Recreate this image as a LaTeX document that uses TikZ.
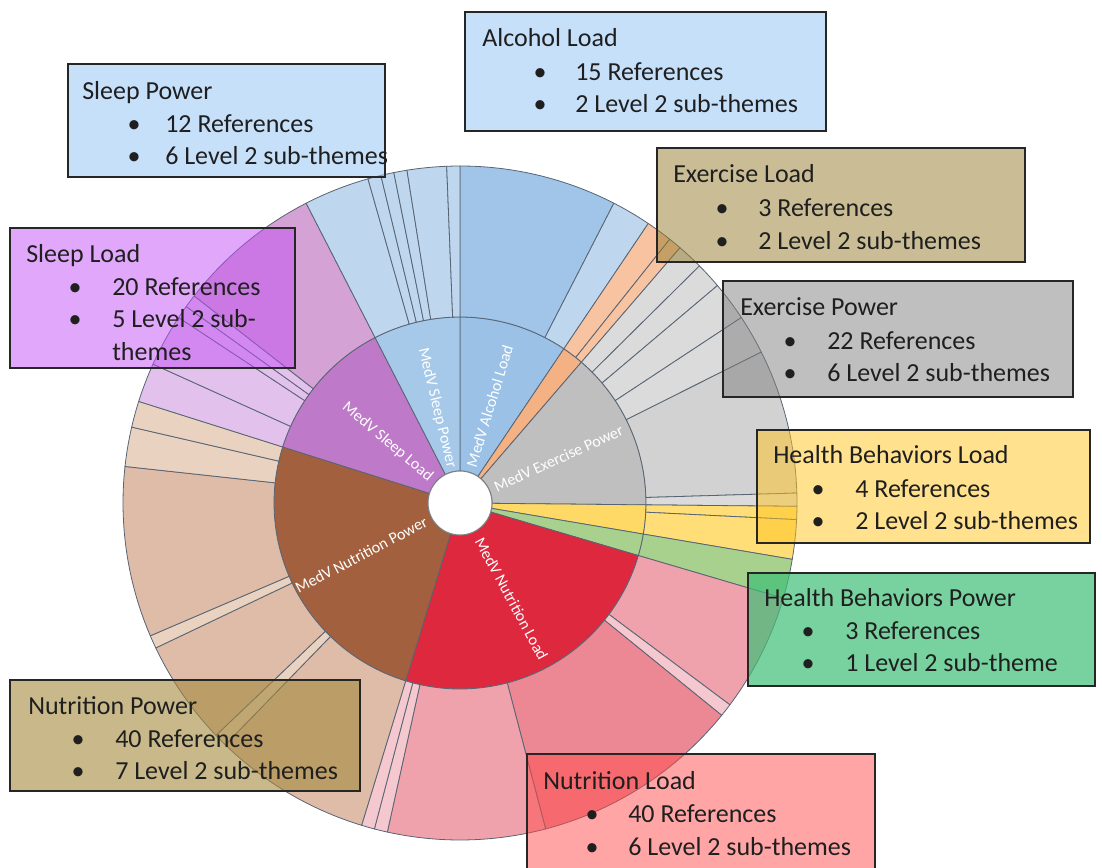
\documentclass[tikz,border=0pt]{standalone}
\usepackage{fontspec}
\setmainfont{Carlito}
\usetikzlibrary{fit}

% ring colours
\definecolor{segline}{RGB}{88,100,115}
\definecolor{alcIn}{RGB}{155,194,230}
\definecolor{alcOut}{RGB}{160,197,232}
\definecolor{blueLt}{RGB}{190,215,238}
\definecolor{spIn}{RGB}{166,201,233}
\definecolor{exlIn}{RGB}{244,177,131}
\definecolor{exlOut}{RGB}{247,195,160}
\definecolor{expIn}{RGB}{191,191,191}
\definecolor{expOut}{RGB}{219,219,219}
\definecolor{expOutB}{RGB}{210,210,211}
\definecolor{hbl}{RGB}{255,217,102}
\definecolor{hblOut}{RGB}{255,222,120}
\definecolor{hbp}{RGB}{169,209,142}
\definecolor{nlIn}{RGB}{222,40,62}
\definecolor{nlPink}{RGB}{240,162,172}
\definecolor{nlRose}{RGB}{236,136,148}
\definecolor{nlPale}{RGB}{244,200,206}
\definecolor{npIn}{RGB}{162,96,62}
\definecolor{npTan}{RGB}{222,188,168}
\definecolor{npPale}{RGB}{234,210,192}
\definecolor{slIn}{RGB}{190,122,200}
\definecolor{slMauve}{RGB}{212,162,212}
\definecolor{slLav}{RGB}{226,194,236}
% legend box colours
\definecolor{boxBlue}{RGB}{141,193,245}
\definecolor{boxKhaki}{RGB}{150,124,45}
\definecolor{boxGray}{RGB}{127,127,127}
\definecolor{boxViolet}{RGB}{195,80,245}
\definecolor{boxYellow}{RGB}{255,195,30}
\definecolor{boxGreen}{RGB}{62,191,119}
\definecolor{boxNut}{RGB}{165,138,60}
\definecolor{boxRed}{RGB}{255,75,75}

\tikzset{
  wedge/.style={draw=segline, line width=0.6pt, line join=round},
  infobox/.style={draw=black!85, line width=1.1pt, fill opacity=0.5, inner sep=0pt},
  boxtext/.style={anchor=base west, inner sep=0pt, font=\fontsize{19.5}{23}\selectfont, text=black!88},
  bulletmark/.style={anchor=base, inner sep=0pt, font=\fontsize{19.5}{23}\selectfont, text=black!88},
  ringtext/.style={inner sep=0pt, font=\fontsize{12}{14}\selectfont, text=white},
}

% one sector of a ring, bounded by cumulative reference counts (159 in all)
\newcommand{\ringwedge}[5]{%
  \pgfmathsetmacro{\wa}{90-#3*2.2641509}%
  \pgfmathsetmacro{\wb}{90-#4*2.2641509}%
  \filldraw[wedge, fill=#5] (\wa:#1) arc[start angle=\wa, end angle=\wb, radius=#1]
    -- (\wb:#2) arc[start angle=\wb, end angle=\wa, radius=#2] -- cycle;}

% legend frame spanning two corners
\newcommand{\infobox}[6]{\node[infobox, fill=#2, fit={(#3,#4) (#5,#6)}] (#1) {};}

\begin{document}
\begin{tikzpicture}[x=0.75pt, y=-0.75pt]
\useasboundingbox (0,0) rectangle (1102,867);
\clip (0,0) rectangle (1102,867);

\begin{scope}[shift={(460,503)}, yscale=-1]
  % inner ring: level 1 themes
  \ringwedge{32}{186}{0}{15}{alcIn}
  \ringwedge{32}{186}{15}{18}{exlIn}
  \ringwedge{32}{186}{18}{40}{expIn}
  \ringwedge{32}{186}{40}{44}{hbl}
  \ringwedge{32}{186}{44}{47}{hbp}
  \ringwedge{32}{186}{47}{87}{nlIn}
  \ringwedge{32}{186}{87}{127}{npIn}
  \ringwedge{32}{186}{127}{147}{slIn}
  \ringwedge{32}{186}{147}{159}{spIn}
  % outer ring: level 2 sub-themes
  \ringwedge{186}{337}{0}{12}{alcOut}
  \ringwedge{186}{337}{12}{15}{blueLt}
  \ringwedge{186}{337}{15}{17}{exlOut}
  \ringwedge{186}{337}{17}{18}{exlOut}
  \ringwedge{186}{337}{18}{20}{expOut}
  \ringwedge{186}{337}{20}{22}{expOut}
  \ringwedge{186}{337}{22}{25}{expOut}
  \ringwedge{186}{337}{25}{28}{expOut}
  \ringwedge{186}{337}{28}{39}{expOutB}
  \ringwedge{186}{337}{39}{40}{expOut}
  \ringwedge{186}{337}{40}{41}{hblOut}
  \ringwedge{186}{337}{41}{44}{hblOut}
  \ringwedge{186}{337}{44}{47}{hbp}
  \ringwedge{186}{337}{47}{56}{nlPink}
  \ringwedge{186}{337}{56}{57}{nlPale}
  \ringwedge{186}{337}{57}{73}{nlRose}
  \ringwedge{186}{337}{73}{85}{nlPink}
  \ringwedge{186}{337}{85}{86}{nlPale}
  \ringwedge{186}{337}{86}{87}{nlPale}
  \ringwedge{186}{337}{87}{99}{npTan}
  \ringwedge{186}{337}{99}{100}{npPale}
  \ringwedge{186}{337}{100}{108}{npTan}
  \ringwedge{186}{337}{108}{109}{npPale}
  \ringwedge{186}{337}{109}{122}{npTan}
  \ringwedge{186}{337}{122}{125}{npPale}
  \ringwedge{186}{337}{125}{127}{npPale}
  \ringwedge{186}{337}{127}{130}{slLav}
  \ringwedge{186}{337}{130}{134}{slLav}
  \ringwedge{186}{337}{134}{135}{slLav}
  \ringwedge{186}{337}{135}{136}{slLav}
  \ringwedge{186}{337}{136}{147}{slMauve}
  \ringwedge{186}{337}{147}{152}{blueLt}
  \ringwedge{186}{337}{152}{153}{blueLt}
  \ringwedge{186}{337}{153}{154}{blueLt}
  \ringwedge{186}{337}{154}{155}{blueLt}
  \ringwedge{186}{337}{155}{158}{blueLt}
  \ringwedge{186}{337}{158}{159}{blueLt}
  % centre hole
  \filldraw[fill=white, draw=black!50, line width=0.8pt] (0,0) circle[radius=32];

  % radial theme labels
  \node[ringtext, anchor=west, rotate=73.02] (alcLabel) at (73.02:38) {MedV Alcohol Load};
  \node[ringtext, anchor=west, rotate=24.34] (expLabel) at (24.34:38) {MedV Exercise Power};
  \node[ringtext, anchor=west, rotate=-61.70] (nlLabel) at (-61.70:40) {MedV Nutrition Load};
  \node[ringtext, anchor=east, rotate=27.74] (npLabel) at (207.74:38) {MedV Nutrition Power};
  \node[ringtext, anchor=east, rotate=-40.19] (slLabel) at (139.81:38) {MedV Sleep Load};
  \node[ringtext, anchor=east, rotate=-76.42] (spLabel) at (103.58:36) {MedV Sleep Power};
\end{scope}

% legend boxes
\infobox{alcBox}{boxBlue}{465}{12}{826}{131}
\node[boxtext] (alcTitle) at (482,47) {Alcohol Load};
\node[bulletmark] (alcDotA) at (540,80) {•};
\node[boxtext] (alcRefs) at (575,80) {15 References};
\node[bulletmark] (alcDotB) at (540,113) {•};
\node[boxtext] (alcSubs) at (575,113) {2 Level 2 sub-themes};

\infobox{spBox}{boxBlue}{68}{64}{385}{177}
\node[boxtext] (spTitle) at (82,99) {Sleep Power};
\node[bulletmark] (spDotA) at (134,132) {•};
\node[boxtext] (spRefs) at (165,132) {12 References};
\node[bulletmark] (spDotB) at (134,164) {•};
\node[boxtext] (spSubs) at (165,164) {6 Level 2 sub-themes};

\infobox{exlBox}{boxKhaki}{657}{148}{1025}{262}
\node[boxtext] (exlTitle) at (673,182) {Exercise Load};
\node[bulletmark] (exlDotA) at (722,216) {•};
\node[boxtext] (exlRefs) at (758,216) {3 References};
\node[bulletmark] (exlDotB) at (722,249) {•};
\node[boxtext] (exlSubs) at (758,249) {2 Level 2 sub-themes};

\infobox{slBox}{boxViolet}{10}{228}{295}{368}
\node[boxtext] (slTitle) at (26,262) {Sleep Load};
\node[bulletmark] (slDotA) at (75,295) {•};
\node[boxtext] (slRefs) at (112,295) {20 References};
\node[bulletmark] (slDotB) at (75,327) {•};
\node[boxtext] (slSubs) at (112,327) {5 Level 2 sub-};
\node[boxtext] (slSubsB) at (112,360) {themes};

\infobox{expBox}{boxGray}{723}{281}{1073}{397}
\node[boxtext] (expTitle) at (740,315) {Exercise Power};
\node[bulletmark] (expDotA) at (790,349) {•};
\node[boxtext] (expRefs) at (827,349) {22 References};
\node[bulletmark] (expDotB) at (790,381) {•};
\node[boxtext] (expSubs) at (827,381) {6 Level 2 sub-themes};

\infobox{hblBox}{boxYellow}{757}{430}{1090}{543}
\node[boxtext] (hblTitle) at (773,463) {Health Behaviors Load};
\node[bulletmark] (hblDotA) at (818,497) {•};
\node[boxtext] (hblRefs) at (855,497) {4 References};
\node[bulletmark] (hblDotB) at (818,529) {•};
\node[boxtext] (hblSubs) at (855,529) {2 Level 2 sub-themes};

\node[infobox, fill=boxGreen, fill opacity=0.7, fit={(748,573) (1095,686)}] (hbpBox) {};
\node[boxtext] (hbpTitle) at (764,606) {Health Behaviors Power};
\node[bulletmark] (hbpDotA) at (808,639) {•};
\node[boxtext] (hbpRefs) at (845,639) {3 References};
\node[bulletmark] (hbpDotB) at (808,671) {•};
\node[boxtext] (hbpSubs) at (845,671) {1 Level 2 sub-theme};

\node[infobox, fill=boxNut, fill opacity=0.6, fit={(10,680) (360,791)}] (npBox) {};
\node[boxtext] (npTitle) at (28,714) {Nutrition Power};
\node[bulletmark] (npDotA) at (78,747) {•};
\node[boxtext] (npRefs) at (115,747) {40 References};
\node[bulletmark] (npDotB) at (78,779) {•};
\node[boxtext] (npSubs) at (115,779) {7 Level 2 sub-themes};

\infobox{nlBox}{boxRed}{527}{754}{875}{885}
\node[boxtext] (nlTitle) at (543,789) {Nutrition Load};
\node[bulletmark] (nlDotA) at (592,822) {•};
\node[boxtext] (nlRefs) at (628,822) {40 References};
\node[bulletmark] (nlDotB) at (592,855) {•};
\node[boxtext] (nlSubs) at (628,855) {6 Level 2 sub-themes};
\end{tikzpicture}
\end{document}
